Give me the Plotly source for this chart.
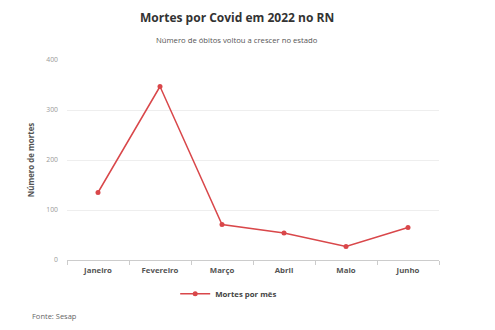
import plotly.graph_objects as go

meses = ["Janeiro", "Fevereiro", "Março", "Abril", "Maio", "Junho"]
mortes = [135, 347, 71, 54, 27, 65]
y_ticks = [0, 100, 200, 300, 400]

FONT = "Open Sans"
RED = "#d9474a"

fig = go.Figure()
fig.add_trace(go.Scatter(
    x=meses, y=mortes, mode="lines+markers", name="<b>Mortes por mês</b>",
    line=dict(color=RED, width=1.5),
    marker=dict(color=RED, size=5),
))

fig.update_layout(
    width=495, height=330,
    margin=dict(l=67, r=56, t=60, b=70, autoexpand=False),
    paper_bgcolor="white", plot_bgcolor="white",
    font=dict(family=FONT, color="#666"),
    title=dict(text="<b>Mortes por Covid em 2022 no RN</b>", xref="container", x=0.479,
               xanchor="center", y=0.945, yanchor="middle",
               font=dict(size=12, color="#333", family=FONT)),
    showlegend=True,
    legend=dict(orientation="h", xref="container", x=0.462, xanchor="center",
                yref="container", y=0.11, yanchor="middle",
                font=dict(size=7.8, color="#444", family=FONT), itemwidth=30),
    annotations=[
        dict(text="Número de óbitos voltou a crescer no estado", xref="paper", yref="paper",
             x=(237 - 67) / 372, y=1.0, xanchor="center", yanchor="bottom", yshift=13,
             showarrow=False, font=dict(size=7.7, color="#555", family=FONT)),
        dict(text="Fonte: Sesap", xref="paper", yref="paper", x=0, y=0,
             xshift=-67 + 30, yshift=-56, xanchor="left", yanchor="middle",
             showarrow=False, font=dict(size=7.5, color="#666", family=FONT)),
    ],
)

fig.update_xaxes(
    type="category", range=[-0.5, len(meses) - 0.5],
    tickson="boundaries", ticks="outside", ticklen=4,
    tickcolor="#ccc", showline=True, linecolor="#ccc", linewidth=1,
    showgrid=False, tickfont=dict(size=7.8, color="#555", family=FONT),
    ticklabelstandoff=3, automargin=False,
    tickvals=meses, ticktext=[f"<b>{m}</b>" for m in meses],
)
fig.update_yaxes(
    range=[0, 400], tickvals=y_ticks, showgrid=True, gridcolor="#eee",
    zeroline=False, showline=False, tickfont=dict(size=6.8, color="#999", family=FONT),
    title=dict(text="<b>Número de mortes</b>", font=dict(size=7.9, color="#555", family=FONT),
               standoff=10),
    ticklabelstandoff=8, automargin=False,
)

fig.write_html("out.html")
